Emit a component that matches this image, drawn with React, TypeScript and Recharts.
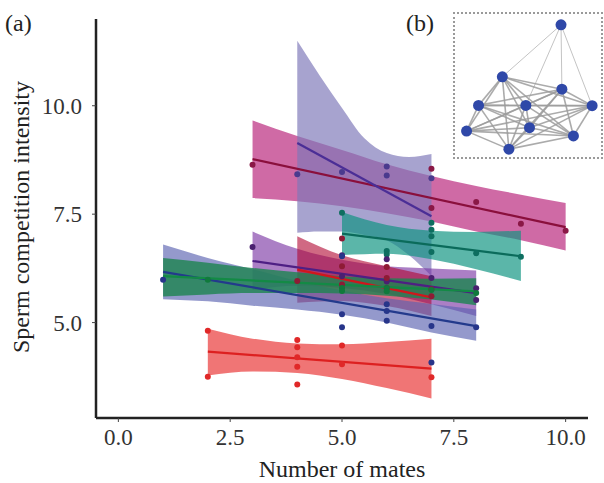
import { ComposedChart, ScatterChart, Area, Line, Scatter, XAxis, YAxis, ReferenceLine } from 'recharts';

const FONT = '"Liberation Serif", "DejaVu Serif", serif';

// axis ticks
const X_TICKS = [0, 2.5, 5, 7.5, 10];
const Y_TICKS = [5, 7.5, 10];

// red group (2..7 mates)
const redBandX = [2, 3, 4, 5, 6, 7];
const redBandHi = [4.86, 4.63, 4.52, 4.5, 4.55, 4.63];
const redBandLo = [3.78, 3.87, 3.84, 3.7, 3.49, 3.25];
const redLineX = [2, 7];
const redLineY = [4.33, 3.94];
const redDotX = [2, 2, 4, 4, 4, 4, 4, 5, 5, 7];
const redDotY = [4.81, 3.75, 4.6, 4.43, 4.2, 3.98, 3.57, 4.47, 4.04, 3.74];

// pink group
const pinkBandX = [3, 4, 5, 6, 7, 8, 9, 10];
const pinkBandHi = [9.66, 9.3, 8.98, 8.65, 8.38, 8.15, 7.95, 7.76];
const pinkBandLo = [7.87, 7.8, 7.68, 7.52, 7.33, 7.1, 6.9, 6.66];
const pinkLineX = [3, 10];
const pinkLineY = [8.77, 7.2];
const pinkDotX = [3, 7, 7, 8, 9, 10];
const pinkDotY = [8.64, 8.55, 7.64, 7.78, 7.28, 7.12];

// lavender group (wide band)
const lavBandX = [4, 4.5, 5, 5.5, 6, 6.5, 7];
const lavBandHi = [11.5, 10.7, 9.95, 9.25, 8.91, 8.82, 8.89];
const lavBandLo = [7.07, 7.1, 7.1, 7.02, 6.9, 6.55, 6.07];
const lavLineX = [4, 7];
const lavLineY = [9.14, 7.45];
const lavDotX = [4, 5, 6, 6, 7];
const lavDotY = [8.42, 8.47, 8.6, 8.39, 8.33];

// teal group
const tealBandX = [5, 6, 7, 8, 9];
const tealBandHi = [7.55, 7.25, 7.12, 7.09, 7.12];
const tealBandLo = [6.56, 6.59, 6.46, 6.23, 5.96];
const tealLineX = [5, 9];
const tealLineY = [7.05, 6.53];
const tealDotX = [5, 6, 6, 7, 7, 7, 7, 8, 9];
const tealDotY = [7.53, 6.65, 6.57, 7.3, 7.14, 6.99, 6.63, 6.6, 6.52];

// purple group
const purpBandX = [3, 4, 5, 6, 7, 8];
const purpBandHi = [7.1, 6.7, 6.45, 6.3, 6.25, 6.2];
const purpBandLo = [5.75, 5.85, 5.8, 5.66, 5.42, 5.15];
const purpLineX = [3, 8];
const purpLineY = [6.42, 5.68];
const purpDotX = [3, 5, 5, 6, 6, 7, 8, 8];
const purpDotY = [6.74, 6.55, 6.07, 6.46, 5.95, 6.03, 5.79, 5.52];

// crimson group
const crimBandX = [4, 5, 6, 7];
const crimBandHi = [6.99, 6.55, 6.3, 6.07];
const crimBandLo = [5.46, 5.5, 5.38, 5.15];
const crimLineX = [4, 7];
const crimLineY = [6.22, 5.58];
const crimDotX = [4, 5, 5, 5, 6, 6, 6, 7, 7];
const crimDotY = [5.96, 6.94, 6.3, 5.88, 6.28, 6.03, 5.8, 5.77, 5.61];

// navy group
const navyBandX = [1, 2, 3, 4, 5, 6, 7, 8];
const navyBandHi = [6.8, 6.49, 6.23, 5.96, 5.74, 5.56, 5.43, 5.3];
const navyBandLo = [5.54, 5.49, 5.39, 5.3, 5.18, 5.0, 4.77, 4.58];
const navyLineX = [1, 8];
const navyLineY = [6.17, 4.92];
const navyDotX = [1, 5, 5, 5, 6, 6, 6, 7, 7, 8];
const navyDotY = [5.99, 6.53, 5.19, 4.89, 5.42, 5.27, 5.04, 4.92, 4.08, 4.89];

// green group
const grnBandX = [1, 2, 3, 4, 5, 6, 7, 8];
const grnBandHi = [6.49, 6.38, 6.26, 6.16, 6.07, 6.02, 6.01, 6.02];
const grnBandLo = [5.6, 5.65, 5.68, 5.68, 5.67, 5.62, 5.53, 5.4];
const grnLineX = [1, 8];
const grnLineY = [6.07, 5.72];
const grnDotX = [2, 5, 5, 6, 6, 7, 8];
const grnDotY = [5.99, 5.8, 5.73, 5.8, 5.72, 5.75, 5.68];

// inset network
const nodeX = [7.33, 3.31, 7.39, 1.68, 4.92, 9.46, 5.17, 0.86, 8.18, 3.76];
const nodeY = [9.17, 5.54, 4.67, 3.54, 3.54, 3.52, 1.98, 1.74, 1.4, 0.48];
const topEdgesTo = [1, 2, 4, 5];

const band = (xs: number[], lo: number[], hi: number[]) => xs.map((x, i) => ({ x, band: [lo[i], hi[i]] }));
const pts = (xs: number[], ys: number[]) => xs.map((x, i) => ({ x, y: ys[i] }));

const groups = [
  { id: 'pink', band: band(pinkBandX, pinkBandLo, pinkBandHi), line: pts(pinkLineX, pinkLineY), dots: pts(pinkDotX, pinkDotY), fill: '#b8237a', op: 0.68, stroke: '#8a0f3c', dot: '#8a1846' },
  { id: 'lav', band: band(lavBandX, lavBandLo, lavBandHi), line: pts(lavLineX, lavLineY), dots: pts(lavDotX, lavDotY), fill: '#7e77b8', op: 0.68, stroke: '#4b2e96', dot: '#4a3a8e' },
  { id: 'teal', band: band(tealBandX, tealBandLo, tealBandHi), line: pts(tealLineX, tealLineY), dots: pts(tealDotX, tealDotY), fill: '#0e9480', op: 0.68, stroke: '#0b6b5b', dot: '#0e6e60' },
  { id: 'purp', band: band(purpBandX, purpBandLo, purpBandHi), line: pts(purpLineX, purpLineY), dots: pts(purpDotX, purpDotY), fill: '#7830a2', op: 0.62, stroke: '#4e1f84', dot: '#4a2070' },
  { id: 'crim', band: band(crimBandX, crimBandLo, crimBandHi), line: pts(crimLineX, crimLineY), dots: pts(crimDotX, crimDotY), fill: '#b00530', op: 0.6, stroke: '#d0161c', dot: '#8e1b35' },
  { id: 'navy', band: band(navyBandX, navyBandLo, navyBandHi), line: pts(navyLineX, navyLineY), dots: pts(navyDotX, navyDotY), fill: '#5b62b0', op: 0.65, stroke: '#233a8c', dot: '#27358a' },
  { id: 'grn', band: band(grnBandX, grnBandLo, grnBandHi), line: pts(grnLineX, grnLineY), dots: pts(grnDotX, grnDotY), fill: '#1e8452', op: 0.82, stroke: '#138a45', dot: '#107a3c' },
  { id: 'red', band: band(redBandX, redBandLo, redBandHi), line: pts(redLineX, redLineY), dots: pts(redDotX, redDotY), fill: '#ea3a3a', op: 0.7, stroke: '#dd2020', dot: '#e02828' },
];

const nodes = nodeX.map((x, i) => ({ x, y: nodeY[i] }));
const edges: [number, number][] = [];
topEdgesTo.forEach((j) => edges.push([0, j]));
for (let i = 1; i < nodeX.length; i++) for (let j = i + 1; j < nodeX.length; j++) edges.push([i, j]);

const tickStyle = { fontFamily: FONT, fontSize: 23, fill: '#333' };

export default function App() {
  return (
    <div style={{ position: 'fixed', left: 0, top: 0, width: 604, height: 483, background: '#fff' }}>
      <ComposedChart width={604} height={483} margin={{ top: 19, right: 16, bottom: 35, left: 40 }}>
        <XAxis
          type="number"
          dataKey="x"
          domain={[-0.5, 10.5]}
          ticks={X_TICKS}
          tickFormatter={(v: number) => v.toFixed(1)}
          allowDuplicatedCategory={false}
          height={30}
          tickSize={4}
          tickMargin={7}
          tick={tickStyle}
          stroke="#222"
          axisLine={{ stroke: '#222', strokeWidth: 2.5 }}
          tickLine={{ stroke: '#444', strokeWidth: 1 }}
        />
        <YAxis
          type="number"
          domain={[2.8, 12]}
          ticks={Y_TICKS}
          tickFormatter={(v: number) => v.toFixed(1)}
          width={56}
          tickSize={4}
          tickMargin={10}
          tick={tickStyle}
          stroke="#222"
          axisLine={{ stroke: '#222', strokeWidth: 2.5 }}
          tickLine={{ stroke: '#444', strokeWidth: 1 }}
        />
        {groups.map((g) => (
          <Area
            key={'b' + g.id}
            data={g.band}
            dataKey="band"
            type="monotone"
            stroke="none"
            fill={g.fill}
            fillOpacity={g.op}
            isAnimationActive={false}
            dot={false}
            activeDot={false}
          />
        ))}
        {groups.map((g) => (
          <Line
            key={'l' + g.id}
            data={g.line}
            dataKey="y"
            stroke={g.stroke}
            strokeWidth={2.2}
            dot={false}
            activeDot={false}
            isAnimationActive={false}
          />
        ))}
        {groups.map((g) => (
          <Scatter
            key={'s' + g.id}
            data={g.dots}
            dataKey="y"
            isAnimationActive={false}
            shape={(p: any) => <circle cx={p.cx} cy={p.cy} r={3} fill={g.dot} />}
          />
        ))}
      </ComposedChart>

      <svg width={604} height={483} style={{ position: 'absolute', left: 0, top: 0, pointerEvents: 'none' }}>
        <text x={5} y={31} fontFamily={FONT} fontSize={24} fill="#222">(a)</text>
        <text x={406} y={31} fontFamily={FONT} fontSize={24} fill="#222">(b)</text>
        <text
          x={29}
          y={217}
          transform="rotate(-90 29 217)"
          textAnchor="middle"
          fontFamily={FONT}
          fontSize={24}
          fill="#222"
        >
          Sperm competition intensity
        </text>
        <text x={342} y={477} textAnchor="middle" fontFamily={FONT} fontSize={24} fill="#222">
          Number of mates
        </text>
      </svg>

      <div
        style={{
          position: 'absolute',
          left: 453,
          top: 12,
          width: 146,
          height: 143,
          border: '2px dotted #9a9a9a',
          background: '#fff',
        }}
      >
        <ScatterChart width={146} height={143} margin={{ top: 0, right: 0, bottom: 0, left: 0 }} style={{ position: 'absolute', left: -1, top: -1 }}>
          <XAxis type="number" dataKey="x" domain={[0, 10]} hide />
          <YAxis type="number" dataKey="y" domain={[0, 10]} hide />
          {edges.map(([a, b], i) => (
            <ReferenceLine
              key={'e' + i}
              segment={[nodes[a], nodes[b]]}
              stroke={a === 0 ? '#c4c4c4' : '#9c9c9c'}
              strokeWidth={a === 0 ? 1 : 1.6}
              strokeOpacity={a === 0 ? 1 : 0.85}
            />
          ))}
          <Scatter
            data={nodes}
            dataKey="y"
            isAnimationActive={false}
            shape={(p: any) => <circle cx={p.cx} cy={p.cy} r={5.5} fill="#2f48a8" />}
          />
        </ScatterChart>
      </div>
    </div>
  );
}
